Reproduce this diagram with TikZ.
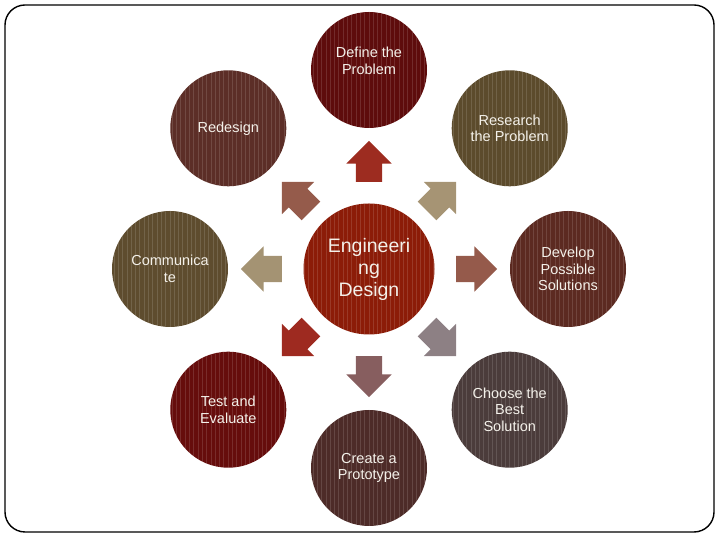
\documentclass[tikz,border=0pt]{standalone}
\usepackage{fontspec}
\setmainfont{Liberation Sans}
\usetikzlibrary{shapes.arrows}
\definecolor{txtc}{HTML}{F4F1EA}
\begin{document}
\begin{tikzpicture}[x=1pt,y=1pt,
  stripes/.style={path picture={%
    \foreach \k in {-16,...,16}{%
      \draw[white, opacity=0.13, line width=1pt]
        ([xshift=\k*4.3pt]path picture bounding box.south) --
        ([xshift=\k*4.3pt]path picture bounding box.north);}}},
  stage/.style={circle, draw=none, minimum size=116pt, inner sep=0pt,
    text=txtc, align=center, font=\fontsize{14.5}{16.5}\selectfont, stripes},
  hub/.style={circle, draw=none, minimum size=131pt, inner sep=0pt,
    text=txtc, align=center, font=\fontsize{19.5}{22}\selectfont, stripes},
  arr/.style={single arrow, draw=none, minimum height=41pt, minimum width=45pt,
    single arrow head extend=9.5pt, inner xsep=4pt, inner ysep=13pt},
  frame/.style={draw=black, line width=1.4pt, rounded corners=20pt}]
\useasboundingbox (0,0) rectangle (720,540);
\draw[frame] (5,8) rectangle (714,535);

\node[hub, fill={rgb,255:red,140;green,28;blue,8}] (core) at (369,271) {Engineeri\\ng\\Design};

\node[stage, fill={rgb,255:red,94;green,12;blue,12},
  label={[text=txtc, align=center, font=\fontsize{14.5}{16.5}\selectfont, yshift=9pt]center:Define the\\Problem}]
  (define) at ([shift={(90:199)}]core.center) {};
\node[stage, fill={rgb,255:red,92;green,75;blue,44}] (research) at ([shift={(45:199)}]core.center) {Research\\the Problem};
\node[stage, fill={rgb,255:red,92;green,42;blue,33}] (develop) at ([shift={(0:199)}]core.center) {Develop\\Possible\\Solutions};
\node[stage, fill={rgb,255:red,75;green,60;blue,59}] (choose) at ([shift={(-45:199)}]core.center) {Choose the\\Best\\Solution};
\node[stage, fill={rgb,255:red,77;green,43;blue,40}] (create) at ([shift={(-90:199)}]core.center) {Create a\\Prototype};
\node[stage, fill={rgb,255:red,102;green,13;blue,12}] (test) at ([shift={(-135:199)}]core.center) {Test and\\Evaluate};
\node[stage, fill={rgb,255:red,94;green,76;blue,46}] (communicate) at ([shift={(180:199)}]core.center) {Communica\\te};
\node[stage, fill={rgb,255:red,92;green,46;blue,39}] (redesign) at ([shift={(135:199)}]core.center) {Redesign};

\node[arr, rotate=90, fill={rgb,255:red,157;green,44;blue,32}] (a1) at ([shift={(90:101)}]core.center) {};
\node[arr, rotate=45, fill={rgb,255:red,166;green,148;blue,116}] (a2) at ([shift={(45:96)}]core.center) {};
\node[arr, rotate=0, fill={rgb,255:red,149;green,90;blue,75}] (a3) at ([shift={(0:101)}]core.center) {};
\node[arr, rotate=-45, fill={rgb,255:red,141;green,128;blue,132}] (a4) at ([shift={(-45:96)}]core.center) {};
\node[arr, rotate=-90, fill={rgb,255:red,135;green,94;blue,95}] (a5) at ([shift={(-90:101)}]core.center) {};
\node[arr, rotate=-135, fill={rgb,255:red,158;green,42;blue,32}] (a6) at ([shift={(-135:96)}]core.center) {};
\node[arr, rotate=180, fill={rgb,255:red,164;green,147;blue,115}] (a7) at ([shift={(180:101)}]core.center) {};
\node[arr, rotate=135, fill={rgb,255:red,149;green,91;blue,75}] (a8) at ([shift={(135:96)}]core.center) {};
\end{tikzpicture}
\end{document}
